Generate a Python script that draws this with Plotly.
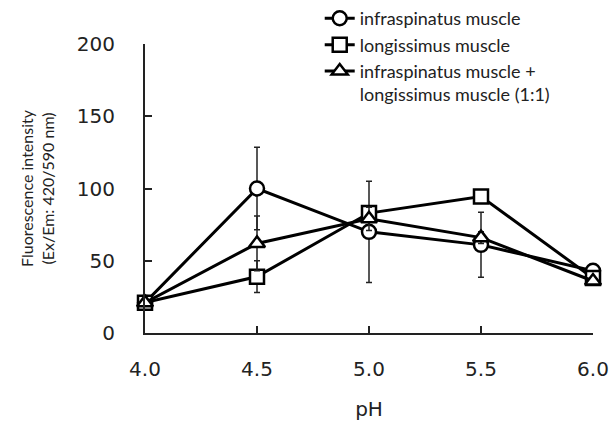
import plotly.graph_objects as go

ph = [4.0, 4.5, 5.0, 5.5, 6.0]
infra = [21, 100, 70, 61, 43]
infra_err = [1, 28.5, 35, 22.5, 2]
longi = [21, 39, 83, 94.5, 38]
longi_err = [1, 11, 4, 3, 2]
mix = [21, 62, 79, 66, 36]
mix_err = [1, 19, 8, 4, 2]

names = ["infraspinatus muscle", "longissimus muscle",
         "infraspinatus muscle +<br>longissimus muscle (1:1)"]
symbols = ["circle", "square", "triangle-up"]
series = [(infra, infra_err), (longi, longi_err), (mix, mix_err)]

fig = go.Figure()
for (vals, errs), name, sym in zip(series, names, symbols):
    fig.add_trace(go.Scatter(
        x=ph, y=vals, name=name, mode="lines+markers",
        line=dict(color="black", width=3),
        marker=dict(symbol=sym, size=14, color="white",
                    line=dict(color="black", width=2.5)),
        error_y=dict(type="data", array=errs, visible=True, color="#222",
                     thickness=1.5, width=3),
        cliponaxis=False,
    ))

fig.update_layout(
    width=610, height=423,
    margin=dict(l=145, r=17, t=44, b=90, autoexpand=False),
    plot_bgcolor="white", paper_bgcolor="white",
    font=dict(family="DejaVu Sans", color="#222"),
    legend=dict(x=0.39, y=1.152, xanchor="left", yanchor="top",
                font=dict(family="Lato", size=18, color="#222"),
                bgcolor="rgba(0,0,0,0)", valign="top", tracegroupgap=0),
    xaxis=dict(range=[4.0, 6.0], tickvals=ph, ticktext=["4.0", "4.5", "5.0", "5.5", "6.0"],
               showline=True, linecolor="#222", linewidth=2, ticks="inside",
               ticklen=7, tickwidth=2, tickcolor="#222", showgrid=False, zeroline=False,
               automargin=False, ticklabelstandoff=17,
               tickfont=dict(size=20), title=dict(text="pH", font=dict(size=20), standoff=22)),
    yaxis=dict(range=[0, 200], tickvals=[0, 50, 100, 150, 200],
               showline=True, linecolor="#222", linewidth=2, ticks="inside",
               ticklen=7, tickwidth=2, tickcolor="#222", showgrid=False, zeroline=False,
               automargin=False, tickfont=dict(size=20), ticklabelstandoff=24,
               title=dict(text="Fluorescence intensity<br>(Ex/Em: 420/590 nm)",
                          font=dict(family="Lato", size=16), standoff=18)),
)

fig.write_html("out.html", config={"displayModeBar": False},
               post_script="document.body.style.margin='0';")
